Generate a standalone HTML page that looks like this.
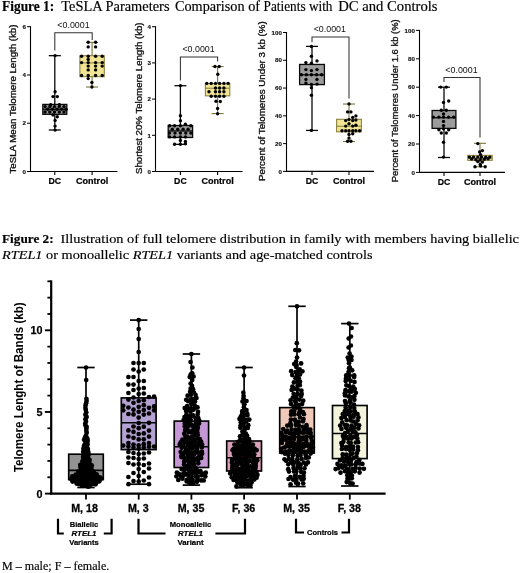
<!DOCTYPE html>
<html><head><meta charset="utf-8"><title>Figure</title>
<style>
html,body{margin:0;padding:0;background:#fff;}
body{width:520px;height:573px;overflow:hidden;font-family:"Liberation Sans",sans-serif;}
svg{display:block;will-change:transform}
text{white-space:pre}
</style></head><body>
<svg width="520" height="573" viewBox="0 0 520 573">
<rect width="520" height="573" fill="#fff"/>
<line x1="54.80" y1="55.66" x2="54.80" y2="104.41" stroke="#0a0a0a" stroke-width="1.3" />
<line x1="54.80" y1="114.30" x2="54.80" y2="129.99" stroke="#0a0a0a" stroke-width="1.3" />
<line x1="48.80" y1="55.66" x2="60.80" y2="55.66" stroke="#0a0a0a" stroke-width="1.3" />
<line x1="48.80" y1="129.99" x2="60.80" y2="129.99" stroke="#0a0a0a" stroke-width="1.3" />
<rect x="42.80" y="104.41" width="24.00" height="9.89" fill="#9c9c9c" stroke="#0a0a0a" stroke-width="1.3"/>
<line x1="42.80" y1="109.24" x2="66.80" y2="109.24" stroke="#0a0a0a" stroke-width="1.3" />
<line x1="92.10" y1="42.39" x2="92.10" y2="55.66" stroke="#7d7436" stroke-width="1.1" />
<line x1="92.10" y1="76.66" x2="92.10" y2="87.03" stroke="#7d7436" stroke-width="1.1" />
<line x1="86.10" y1="42.39" x2="98.10" y2="42.39" stroke="#7d7436" stroke-width="1.1" />
<line x1="86.10" y1="87.03" x2="98.10" y2="87.03" stroke="#7d7436" stroke-width="1.1" />
<rect x="79.90" y="55.66" width="24.40" height="21.00" fill="#f1e595" stroke="#8d8340" stroke-width="1.1"/>
<line x1="79.90" y1="62.90" x2="104.30" y2="62.90" stroke="#8d8340" stroke-width="1.1" />
<g fill="#000"><circle cx="55.1" cy="55.6" r="1.7"/><circle cx="55.1" cy="91.7" r="1.7"/><circle cx="53.0" cy="96.6" r="1.7"/><circle cx="57.3" cy="96.6" r="1.7"/><circle cx="50.7" cy="104.8" r="1.7"/><circle cx="59.4" cy="104.8" r="1.7"/><circle cx="53.0" cy="114.9" r="1.7"/><circle cx="57.3" cy="116.7" r="1.7"/><circle cx="55.1" cy="120.5" r="1.7"/><circle cx="55.1" cy="126.1" r="1.7"/><circle cx="55.1" cy="130.1" r="1.7"/><circle cx="45.1" cy="106.6" r="1.7"/><circle cx="49.8" cy="106.6" r="1.7"/><circle cx="54.5" cy="106.6" r="1.7"/><circle cx="59.3" cy="106.6" r="1.7"/><circle cx="64.0" cy="106.6" r="1.7"/><circle cx="47.6" cy="109.3" r="1.7"/><circle cx="52.3" cy="109.3" r="1.7"/><circle cx="57.0" cy="109.3" r="1.7"/><circle cx="61.7" cy="109.3" r="1.7"/><circle cx="66.1" cy="109.3" r="1.7"/><circle cx="45.1" cy="112.0" r="1.7"/><circle cx="49.8" cy="112.0" r="1.7"/><circle cx="54.5" cy="112.0" r="1.7"/><circle cx="59.3" cy="112.0" r="1.7"/><circle cx="64.0" cy="112.0" r="1.7"/></g>
<g fill="#000"><circle cx="88.2" cy="42.3" r="1.7"/><circle cx="95.6" cy="42.3" r="1.7"/><circle cx="88.2" cy="46.9" r="1.7"/><circle cx="95.6" cy="46.9" r="1.7"/><circle cx="81.6" cy="56.3" r="1.7"/><circle cx="88.2" cy="56.3" r="1.7"/><circle cx="95.6" cy="56.3" r="1.7"/><circle cx="102.2" cy="56.3" r="1.7"/><circle cx="88.2" cy="59.4" r="1.7"/><circle cx="81.6" cy="62.6" r="1.7"/><circle cx="88.2" cy="62.6" r="1.7"/><circle cx="95.6" cy="62.6" r="1.7"/><circle cx="102.2" cy="62.6" r="1.7"/><circle cx="88.2" cy="66.1" r="1.7"/><circle cx="95.6" cy="66.1" r="1.7"/><circle cx="102.2" cy="66.1" r="1.7"/><circle cx="88.2" cy="69.9" r="1.7"/><circle cx="95.6" cy="69.9" r="1.7"/><circle cx="81.6" cy="75.5" r="1.7"/><circle cx="88.2" cy="75.5" r="1.7"/><circle cx="95.6" cy="75.5" r="1.7"/><circle cx="102.2" cy="75.5" r="1.7"/><circle cx="88.2" cy="78.6" r="1.7"/><circle cx="91.9" cy="82.5" r="1.7"/><circle cx="91.9" cy="87.0" r="1.7"/></g>
<line x1="30.50" y1="26.20" x2="30.50" y2="172.00" stroke="#000" stroke-width="1.1" />
<line x1="30.00" y1="171.50" x2="117.50" y2="171.50" stroke="#000" stroke-width="1.1" />
<line x1="27.00" y1="171.50" x2="30.50" y2="171.50" stroke="#000" stroke-width="1.0" />
<text x="25.90" y="173.70" font-size="6.2" text-anchor="end" font-weight="bold" fill="#111" style="font-family:'Liberation Sans',sans-serif;stroke:#111;stroke-width:0.15px">0</text>
<line x1="27.00" y1="123.23" x2="30.50" y2="123.23" stroke="#000" stroke-width="1.0" />
<text x="25.90" y="125.43" font-size="6.2" text-anchor="end" font-weight="bold" fill="#111" style="font-family:'Liberation Sans',sans-serif;stroke:#111;stroke-width:0.15px">2</text>
<line x1="27.00" y1="74.97" x2="30.50" y2="74.97" stroke="#000" stroke-width="1.0" />
<text x="25.90" y="77.17" font-size="6.2" text-anchor="end" font-weight="bold" fill="#111" style="font-family:'Liberation Sans',sans-serif;stroke:#111;stroke-width:0.15px">4</text>
<line x1="27.00" y1="26.70" x2="30.50" y2="26.70" stroke="#000" stroke-width="1.0" />
<text x="25.90" y="28.90" font-size="6.2" text-anchor="end" font-weight="bold" fill="#111" style="font-family:'Liberation Sans',sans-serif;stroke:#111;stroke-width:0.15px">6</text>
<line x1="54.80" y1="171.50" x2="54.80" y2="175.00" stroke="#000" stroke-width="1.1" />
<line x1="92.10" y1="171.50" x2="92.10" y2="175.00" stroke="#000" stroke-width="1.1" />
<text x="54.80" y="184.30" font-size="8.8" text-anchor="middle" font-weight="bold" fill="#000" style="font-family:'Liberation Sans',sans-serif;stroke:#000;stroke-width:0.2px" textLength="12.60" lengthAdjust="spacingAndGlyphs">DC</text>
<text x="92.10" y="184.30" font-size="8.8" text-anchor="middle" font-weight="bold" fill="#000" style="font-family:'Liberation Sans',sans-serif;stroke:#000;stroke-width:0.2px" textLength="32.20" lengthAdjust="spacingAndGlyphs">Control</text>
<polyline points="54.80,50.50 54.80,32.80 92.20,32.80 92.20,40.00" fill="none" stroke="#333" stroke-width="1.05"/>
<text x="73.50" y="28.10" font-size="9.0" text-anchor="middle" font-weight="normal" fill="#111" style="font-family:'Liberation Sans',sans-serif;" textLength="32.30" lengthAdjust="spacingAndGlyphs">&lt;0.0001</text>
<text x="15.90" y="173.50" font-size="8.2" text-anchor="start" font-weight="normal" fill="#111" style="font-family:'Liberation Sans',sans-serif;stroke:#111;stroke-width:0.32px" textLength="149.00" lengthAdjust="spacingAndGlyphs" transform="rotate(-90 15.90 173.50)">TeSLA Mean Telomere Length (kb)</text>
<line x1="180.40" y1="85.71" x2="180.40" y2="125.53" stroke="#0a0a0a" stroke-width="1.3" />
<line x1="180.40" y1="137.47" x2="180.40" y2="144.35" stroke="#0a0a0a" stroke-width="1.3" />
<line x1="174.40" y1="85.71" x2="186.40" y2="85.71" stroke="#0a0a0a" stroke-width="1.3" />
<line x1="174.40" y1="144.35" x2="186.40" y2="144.35" stroke="#0a0a0a" stroke-width="1.3" />
<rect x="168.20" y="125.53" width="24.40" height="11.95" fill="#9c9c9c" stroke="#0a0a0a" stroke-width="1.3"/>
<line x1="168.20" y1="130.96" x2="192.60" y2="130.96" stroke="#0a0a0a" stroke-width="1.3" />
<line x1="217.60" y1="66.52" x2="217.60" y2="83.53" stroke="#7d7436" stroke-width="1.1" />
<line x1="217.60" y1="95.84" x2="217.60" y2="113.58" stroke="#7d7436" stroke-width="1.1" />
<line x1="211.60" y1="66.52" x2="223.60" y2="66.52" stroke="#7d7436" stroke-width="1.1" />
<line x1="211.60" y1="113.58" x2="223.60" y2="113.58" stroke="#7d7436" stroke-width="1.1" />
<rect x="205.40" y="83.53" width="24.40" height="12.31" fill="#f1e595" stroke="#8d8340" stroke-width="1.1"/>
<line x1="205.40" y1="88.24" x2="229.80" y2="88.24" stroke="#8d8340" stroke-width="1.1" />
<g fill="#000"><circle cx="180.4" cy="85.6" r="1.7"/><circle cx="180.4" cy="115.8" r="1.7"/><circle cx="180.4" cy="120.8" r="1.7"/><circle cx="185.4" cy="124.2" r="1.7"/><circle cx="169.6" cy="125.8" r="1.7"/><circle cx="174.6" cy="125.8" r="1.7"/><circle cx="180.4" cy="125.8" r="1.7"/><circle cx="190.8" cy="125.8" r="1.7"/><circle cx="172.3" cy="129.2" r="1.7"/><circle cx="177.7" cy="129.2" r="1.7"/><circle cx="183.1" cy="129.2" r="1.7"/><circle cx="188.1" cy="129.2" r="1.7"/><circle cx="169.6" cy="133.1" r="1.7"/><circle cx="175.0" cy="133.1" r="1.7"/><circle cx="180.4" cy="133.1" r="1.7"/><circle cx="185.8" cy="133.1" r="1.7"/><circle cx="190.8" cy="133.1" r="1.7"/><circle cx="169.6" cy="136.9" r="1.7"/><circle cx="174.6" cy="136.9" r="1.7"/><circle cx="180.4" cy="136.9" r="1.7"/><circle cx="185.4" cy="136.9" r="1.7"/><circle cx="180.4" cy="140.4" r="1.7"/><circle cx="185.4" cy="141.5" r="1.7"/><circle cx="174.6" cy="144.2" r="1.7"/><circle cx="185.4" cy="143.8" r="1.7"/><circle cx="180.4" cy="144.2" r="1.7"/></g>
<g fill="#000"><circle cx="215.0" cy="66.5" r="1.7"/><circle cx="219.2" cy="66.5" r="1.7"/><circle cx="217.8" cy="74.2" r="1.7"/><circle cx="206.8" cy="83.4" r="1.7"/><circle cx="211.2" cy="83.4" r="1.7"/><circle cx="215.5" cy="83.4" r="1.7"/><circle cx="219.6" cy="83.4" r="1.7"/><circle cx="223.9" cy="83.4" r="1.7"/><circle cx="228.1" cy="83.4" r="1.7"/><circle cx="215.5" cy="88.0" r="1.7"/><circle cx="219.6" cy="88.0" r="1.7"/><circle cx="223.9" cy="88.0" r="1.7"/><circle cx="209.0" cy="91.8" r="1.7"/><circle cx="215.5" cy="91.8" r="1.7"/><circle cx="219.6" cy="91.8" r="1.7"/><circle cx="223.9" cy="91.8" r="1.7"/><circle cx="211.2" cy="96.2" r="1.7"/><circle cx="215.5" cy="96.2" r="1.7"/><circle cx="219.6" cy="96.2" r="1.7"/><circle cx="223.9" cy="96.2" r="1.7"/><circle cx="216.0" cy="101.3" r="1.7"/><circle cx="220.3" cy="101.5" r="1.7"/><circle cx="217.6" cy="108.5" r="1.7"/><circle cx="217.6" cy="113.8" r="1.7"/></g>
<line x1="155.50" y1="26.20" x2="155.50" y2="172.00" stroke="#000" stroke-width="1.1" />
<line x1="155.00" y1="171.50" x2="242.50" y2="171.50" stroke="#000" stroke-width="1.1" />
<line x1="152.00" y1="171.50" x2="155.50" y2="171.50" stroke="#000" stroke-width="1.0" />
<text x="150.90" y="173.70" font-size="6.2" text-anchor="end" font-weight="bold" fill="#111" style="font-family:'Liberation Sans',sans-serif;stroke:#111;stroke-width:0.15px">0</text>
<line x1="152.00" y1="135.30" x2="155.50" y2="135.30" stroke="#000" stroke-width="1.0" />
<text x="150.90" y="137.50" font-size="6.2" text-anchor="end" font-weight="bold" fill="#111" style="font-family:'Liberation Sans',sans-serif;stroke:#111;stroke-width:0.15px">1</text>
<line x1="152.00" y1="99.10" x2="155.50" y2="99.10" stroke="#000" stroke-width="1.0" />
<text x="150.90" y="101.30" font-size="6.2" text-anchor="end" font-weight="bold" fill="#111" style="font-family:'Liberation Sans',sans-serif;stroke:#111;stroke-width:0.15px">2</text>
<line x1="152.00" y1="62.90" x2="155.50" y2="62.90" stroke="#000" stroke-width="1.0" />
<text x="150.90" y="65.10" font-size="6.2" text-anchor="end" font-weight="bold" fill="#111" style="font-family:'Liberation Sans',sans-serif;stroke:#111;stroke-width:0.15px">3</text>
<line x1="152.00" y1="26.70" x2="155.50" y2="26.70" stroke="#000" stroke-width="1.0" />
<text x="150.90" y="28.90" font-size="6.2" text-anchor="end" font-weight="bold" fill="#111" style="font-family:'Liberation Sans',sans-serif;stroke:#111;stroke-width:0.15px">4</text>
<line x1="180.40" y1="171.50" x2="180.40" y2="175.00" stroke="#000" stroke-width="1.1" />
<line x1="217.60" y1="171.50" x2="217.60" y2="175.00" stroke="#000" stroke-width="1.1" />
<text x="180.40" y="184.30" font-size="8.8" text-anchor="middle" font-weight="bold" fill="#000" style="font-family:'Liberation Sans',sans-serif;stroke:#000;stroke-width:0.2px" textLength="12.60" lengthAdjust="spacingAndGlyphs">DC</text>
<text x="217.60" y="184.30" font-size="8.8" text-anchor="middle" font-weight="bold" fill="#000" style="font-family:'Liberation Sans',sans-serif;stroke:#000;stroke-width:0.2px" textLength="32.20" lengthAdjust="spacingAndGlyphs">Control</text>
<polyline points="180.40,80.50 180.40,57.00 217.60,57.00 217.60,61.50" fill="none" stroke="#333" stroke-width="1.05"/>
<text x="198.60" y="52.30" font-size="9.0" text-anchor="middle" font-weight="normal" fill="#111" style="font-family:'Liberation Sans',sans-serif;" textLength="32.30" lengthAdjust="spacingAndGlyphs">&lt;0.0001</text>
<text x="141.80" y="174.00" font-size="8.2" text-anchor="start" font-weight="normal" fill="#111" style="font-family:'Liberation Sans',sans-serif;stroke:#111;stroke-width:0.32px" textLength="151.60" lengthAdjust="spacingAndGlyphs" transform="rotate(-90 141.80 174.00)">Shortest 20% Telomere Length (kb)</text>
<line x1="312.00" y1="46.39" x2="312.00" y2="64.45" stroke="#0a0a0a" stroke-width="1.3" />
<line x1="312.00" y1="84.59" x2="312.00" y2="130.42" stroke="#0a0a0a" stroke-width="1.3" />
<line x1="306.00" y1="46.39" x2="318.00" y2="46.39" stroke="#0a0a0a" stroke-width="1.3" />
<line x1="306.00" y1="130.42" x2="318.00" y2="130.42" stroke="#0a0a0a" stroke-width="1.3" />
<rect x="299.60" y="64.45" width="24.80" height="20.14" fill="#9c9c9c" stroke="#0a0a0a" stroke-width="1.3"/>
<line x1="299.60" y1="74.86" x2="324.40" y2="74.86" stroke="#0a0a0a" stroke-width="1.3" />
<line x1="349.00" y1="104.03" x2="349.00" y2="119.31" stroke="#7d7436" stroke-width="1.1" />
<line x1="349.00" y1="131.81" x2="349.00" y2="141.54" stroke="#7d7436" stroke-width="1.1" />
<line x1="343.00" y1="104.03" x2="355.00" y2="104.03" stroke="#7d7436" stroke-width="1.1" />
<line x1="343.00" y1="141.54" x2="355.00" y2="141.54" stroke="#7d7436" stroke-width="1.1" />
<rect x="336.60" y="119.31" width="24.80" height="12.50" fill="#f1e595" stroke="#8d8340" stroke-width="1.1"/>
<line x1="336.60" y1="126.26" x2="361.40" y2="126.26" stroke="#8d8340" stroke-width="1.1" />
<g fill="#000"><circle cx="311.4" cy="46.5" r="1.7"/><circle cx="311.4" cy="56.3" r="1.7"/><circle cx="317.0" cy="60.9" r="1.7"/><circle cx="305.9" cy="62.6" r="1.7"/><circle cx="311.4" cy="63.3" r="1.7"/><circle cx="305.9" cy="69.6" r="1.7"/><circle cx="311.4" cy="70.6" r="1.7"/><circle cx="317.0" cy="69.6" r="1.7"/><circle cx="301.3" cy="74.8" r="1.7"/><circle cx="306.4" cy="74.8" r="1.7"/><circle cx="311.4" cy="74.8" r="1.7"/><circle cx="316.6" cy="74.8" r="1.7"/><circle cx="321.6" cy="74.8" r="1.7"/><circle cx="305.9" cy="79.4" r="1.7"/><circle cx="317.0" cy="79.4" r="1.7"/><circle cx="305.9" cy="83.1" r="1.7"/><circle cx="311.4" cy="84.4" r="1.7"/><circle cx="317.0" cy="84.1" r="1.7"/><circle cx="311.4" cy="87.8" r="1.7"/><circle cx="311.4" cy="95.2" r="1.7"/><circle cx="311.4" cy="130.4" r="1.7"/></g>
<g fill="#000"><circle cx="349.0" cy="103.9" r="1.7"/><circle cx="347.6" cy="111.9" r="1.7"/><circle cx="350.9" cy="111.9" r="1.7"/><circle cx="355.9" cy="115.9" r="1.7"/><circle cx="352.7" cy="117.4" r="1.7"/><circle cx="345.7" cy="120.6" r="1.7"/><circle cx="349.0" cy="119.6" r="1.7"/><circle cx="352.7" cy="120.6" r="1.7"/><circle cx="355.9" cy="120.0" r="1.7"/><circle cx="349.0" cy="123.7" r="1.7"/><circle cx="345.7" cy="126.1" r="1.7"/><circle cx="352.7" cy="126.1" r="1.7"/><circle cx="355.9" cy="125.2" r="1.7"/><circle cx="342.0" cy="130.7" r="1.7"/><circle cx="345.7" cy="130.7" r="1.7"/><circle cx="349.0" cy="130.7" r="1.7"/><circle cx="352.7" cy="130.7" r="1.7"/><circle cx="355.9" cy="130.7" r="1.7"/><circle cx="359.6" cy="130.7" r="1.7"/><circle cx="349.0" cy="134.4" r="1.7"/><circle cx="352.7" cy="133.7" r="1.7"/><circle cx="349.0" cy="138.1" r="1.7"/><circle cx="347.6" cy="141.3" r="1.7"/><circle cx="350.9" cy="141.3" r="1.7"/></g>
<line x1="286.50" y1="32.00" x2="286.50" y2="171.90" stroke="#000" stroke-width="1.1" />
<line x1="286.00" y1="171.40" x2="374.00" y2="171.40" stroke="#000" stroke-width="1.1" />
<line x1="283.00" y1="171.40" x2="286.50" y2="171.40" stroke="#000" stroke-width="1.0" />
<text x="281.90" y="173.60" font-size="6.2" text-anchor="end" font-weight="bold" fill="#111" style="font-family:'Liberation Sans',sans-serif;stroke:#111;stroke-width:0.15px">0</text>
<line x1="283.00" y1="143.62" x2="286.50" y2="143.62" stroke="#000" stroke-width="1.0" />
<text x="281.90" y="145.82" font-size="6.2" text-anchor="end" font-weight="bold" fill="#111" style="font-family:'Liberation Sans',sans-serif;stroke:#111;stroke-width:0.15px">20</text>
<line x1="283.00" y1="115.84" x2="286.50" y2="115.84" stroke="#000" stroke-width="1.0" />
<text x="281.90" y="118.04" font-size="6.2" text-anchor="end" font-weight="bold" fill="#111" style="font-family:'Liberation Sans',sans-serif;stroke:#111;stroke-width:0.15px">40</text>
<line x1="283.00" y1="88.06" x2="286.50" y2="88.06" stroke="#000" stroke-width="1.0" />
<text x="281.90" y="90.26" font-size="6.2" text-anchor="end" font-weight="bold" fill="#111" style="font-family:'Liberation Sans',sans-serif;stroke:#111;stroke-width:0.15px">60</text>
<line x1="283.00" y1="60.28" x2="286.50" y2="60.28" stroke="#000" stroke-width="1.0" />
<text x="281.90" y="62.48" font-size="6.2" text-anchor="end" font-weight="bold" fill="#111" style="font-family:'Liberation Sans',sans-serif;stroke:#111;stroke-width:0.15px">80</text>
<line x1="283.00" y1="32.50" x2="286.50" y2="32.50" stroke="#000" stroke-width="1.0" />
<text x="281.90" y="34.70" font-size="6.2" text-anchor="end" font-weight="bold" fill="#111" style="font-family:'Liberation Sans',sans-serif;stroke:#111;stroke-width:0.15px">100</text>
<line x1="312.00" y1="171.40" x2="312.00" y2="174.90" stroke="#000" stroke-width="1.1" />
<line x1="349.00" y1="171.40" x2="349.00" y2="174.90" stroke="#000" stroke-width="1.1" />
<text x="312.00" y="184.20" font-size="8.8" text-anchor="middle" font-weight="bold" fill="#000" style="font-family:'Liberation Sans',sans-serif;stroke:#000;stroke-width:0.2px" textLength="12.60" lengthAdjust="spacingAndGlyphs">DC</text>
<text x="349.00" y="184.20" font-size="8.8" text-anchor="middle" font-weight="bold" fill="#000" style="font-family:'Liberation Sans',sans-serif;stroke:#000;stroke-width:0.2px" textLength="32.20" lengthAdjust="spacingAndGlyphs">Control</text>
<polyline points="312.00,42.20 312.00,37.00 349.00,37.00 349.00,98.50" fill="none" stroke="#333" stroke-width="1.05"/>
<text x="329.80" y="31.80" font-size="9.0" text-anchor="middle" font-weight="normal" fill="#111" style="font-family:'Liberation Sans',sans-serif;" textLength="32.30" lengthAdjust="spacingAndGlyphs">&lt;0.0001</text>
<text x="265.40" y="181.00" font-size="8.2" text-anchor="start" font-weight="normal" fill="#111" style="font-family:'Liberation Sans',sans-serif;stroke:#111;stroke-width:0.32px" textLength="159.70" lengthAdjust="spacingAndGlyphs" transform="rotate(-90 265.40 181.00)">Percent of Telomeres Under 3 kb (%)</text>
<line x1="444.00" y1="87.20" x2="444.00" y2="110.49" stroke="#0a0a0a" stroke-width="1.3" />
<line x1="444.00" y1="128.38" x2="444.00" y2="157.49" stroke="#0a0a0a" stroke-width="1.3" />
<line x1="438.00" y1="87.20" x2="450.00" y2="87.20" stroke="#0a0a0a" stroke-width="1.3" />
<line x1="438.00" y1="157.49" x2="450.00" y2="157.49" stroke="#0a0a0a" stroke-width="1.3" />
<rect x="432.10" y="110.49" width="23.80" height="17.89" fill="#9c9c9c" stroke="#0a0a0a" stroke-width="1.3"/>
<line x1="432.10" y1="117.73" x2="455.90" y2="117.73" stroke="#0a0a0a" stroke-width="1.3" />
<line x1="480.00" y1="143.29" x2="480.00" y2="155.36" stroke="#7d7436" stroke-width="1.1" />
<line x1="480.00" y1="160.33" x2="480.00" y2="166.72" stroke="#7d7436" stroke-width="1.1" />
<line x1="474.00" y1="143.29" x2="486.00" y2="143.29" stroke="#7d7436" stroke-width="1.1" />
<line x1="474.00" y1="166.72" x2="486.00" y2="166.72" stroke="#7d7436" stroke-width="1.1" />
<rect x="467.80" y="155.36" width="24.40" height="4.97" fill="#f1e595" stroke="#8d8340" stroke-width="1.1"/>
<line x1="467.80" y1="158.20" x2="492.20" y2="158.20" stroke="#8d8340" stroke-width="1.1" />
<g fill="#000"><circle cx="440.7" cy="87.1" r="1.7"/><circle cx="446.3" cy="87.1" r="1.7"/><circle cx="443.5" cy="102.5" r="1.7"/><circle cx="448.7" cy="101.0" r="1.7"/><circle cx="441.3" cy="110.3" r="1.7"/><circle cx="446.3" cy="110.3" r="1.7"/><circle cx="443.5" cy="114.0" r="1.7"/><circle cx="433.3" cy="117.1" r="1.7"/><circle cx="438.9" cy="117.1" r="1.7"/><circle cx="443.5" cy="117.1" r="1.7"/><circle cx="448.7" cy="117.1" r="1.7"/><circle cx="453.7" cy="117.1" r="1.7"/><circle cx="443.5" cy="121.4" r="1.7"/><circle cx="443.5" cy="125.6" r="1.7"/><circle cx="438.9" cy="129.7" r="1.7"/><circle cx="443.5" cy="128.8" r="1.7"/><circle cx="448.7" cy="129.7" r="1.7"/><circle cx="441.3" cy="133.0" r="1.7"/><circle cx="446.3" cy="133.0" r="1.7"/><circle cx="443.5" cy="142.3" r="1.7"/><circle cx="443.5" cy="157.1" r="1.7"/></g>
<g fill="#000"><circle cx="477.8" cy="143.6" r="1.7"/><circle cx="482.4" cy="150.6" r="1.7"/><circle cx="479.6" cy="151.9" r="1.7"/><circle cx="480.6" cy="154.7" r="1.7"/><circle cx="469.4" cy="157.1" r="1.7"/><circle cx="473.5" cy="157.1" r="1.7"/><circle cx="477.8" cy="157.1" r="1.7"/><circle cx="481.5" cy="157.1" r="1.7"/><circle cx="485.7" cy="157.1" r="1.7"/><circle cx="489.8" cy="157.1" r="1.7"/><circle cx="471.7" cy="159.0" r="1.7"/><circle cx="475.9" cy="159.7" r="1.7"/><circle cx="480.2" cy="159.7" r="1.7"/><circle cx="484.3" cy="159.3" r="1.7"/><circle cx="488.0" cy="158.8" r="1.7"/><circle cx="477.8" cy="161.6" r="1.7"/><circle cx="482.4" cy="162.1" r="1.7"/><circle cx="480.2" cy="164.5" r="1.7"/><circle cx="475.0" cy="166.7" r="1.7"/><circle cx="485.2" cy="166.7" r="1.7"/><circle cx="480.6" cy="166.0" r="1.7"/></g>
<line x1="419.50" y1="29.90" x2="419.50" y2="172.90" stroke="#000" stroke-width="1.1" />
<line x1="419.00" y1="172.40" x2="505.00" y2="172.40" stroke="#000" stroke-width="1.1" />
<line x1="416.00" y1="172.40" x2="419.50" y2="172.40" stroke="#000" stroke-width="1.0" />
<text x="414.90" y="174.60" font-size="6.2" text-anchor="end" font-weight="bold" fill="#111" style="font-family:'Liberation Sans',sans-serif;stroke:#111;stroke-width:0.15px">0</text>
<line x1="416.00" y1="144.00" x2="419.50" y2="144.00" stroke="#000" stroke-width="1.0" />
<text x="414.90" y="146.20" font-size="6.2" text-anchor="end" font-weight="bold" fill="#111" style="font-family:'Liberation Sans',sans-serif;stroke:#111;stroke-width:0.15px">20</text>
<line x1="416.00" y1="115.60" x2="419.50" y2="115.60" stroke="#000" stroke-width="1.0" />
<text x="414.90" y="117.80" font-size="6.2" text-anchor="end" font-weight="bold" fill="#111" style="font-family:'Liberation Sans',sans-serif;stroke:#111;stroke-width:0.15px">40</text>
<line x1="416.00" y1="87.20" x2="419.50" y2="87.20" stroke="#000" stroke-width="1.0" />
<text x="414.90" y="89.40" font-size="6.2" text-anchor="end" font-weight="bold" fill="#111" style="font-family:'Liberation Sans',sans-serif;stroke:#111;stroke-width:0.15px">60</text>
<line x1="416.00" y1="58.80" x2="419.50" y2="58.80" stroke="#000" stroke-width="1.0" />
<text x="414.90" y="61.00" font-size="6.2" text-anchor="end" font-weight="bold" fill="#111" style="font-family:'Liberation Sans',sans-serif;stroke:#111;stroke-width:0.15px">80</text>
<line x1="416.00" y1="30.40" x2="419.50" y2="30.40" stroke="#000" stroke-width="1.0" />
<text x="414.90" y="32.60" font-size="6.2" text-anchor="end" font-weight="bold" fill="#111" style="font-family:'Liberation Sans',sans-serif;stroke:#111;stroke-width:0.15px">100</text>
<line x1="444.00" y1="172.40" x2="444.00" y2="175.90" stroke="#000" stroke-width="1.1" />
<line x1="480.00" y1="172.40" x2="480.00" y2="175.90" stroke="#000" stroke-width="1.1" />
<text x="444.00" y="185.20" font-size="8.8" text-anchor="middle" font-weight="bold" fill="#000" style="font-family:'Liberation Sans',sans-serif;stroke:#000;stroke-width:0.2px" textLength="12.60" lengthAdjust="spacingAndGlyphs">DC</text>
<text x="480.00" y="185.20" font-size="8.8" text-anchor="middle" font-weight="bold" fill="#000" style="font-family:'Liberation Sans',sans-serif;stroke:#000;stroke-width:0.2px" textLength="32.20" lengthAdjust="spacingAndGlyphs">Control</text>
<polyline points="444.00,82.00 444.00,77.50 480.00,77.50 480.00,137.50" fill="none" stroke="#333" stroke-width="1.05"/>
<text x="461.50" y="72.80" font-size="9.0" text-anchor="middle" font-weight="normal" fill="#111" style="font-family:'Liberation Sans',sans-serif;" textLength="32.30" lengthAdjust="spacingAndGlyphs">&lt;0.0001</text>
<text x="398.50" y="182.30" font-size="8.2" text-anchor="start" font-weight="normal" fill="#111" style="font-family:'Liberation Sans',sans-serif;stroke:#111;stroke-width:0.32px" textLength="163.00" lengthAdjust="spacingAndGlyphs" transform="rotate(-90 398.50 182.30)">Percent of Telomeres Under 1.6 kb (%)</text>
<line x1="86.00" y1="367.50" x2="86.00" y2="454.20" stroke="#000" stroke-width="1.7" />
<line x1="86.00" y1="479.60" x2="86.00" y2="487.50" stroke="#000" stroke-width="1.7" />
<line x1="77.30" y1="367.50" x2="94.70" y2="367.50" stroke="#000" stroke-width="1.7" />
<line x1="77.30" y1="487.50" x2="94.70" y2="487.50" stroke="#000" stroke-width="1.7" />
<rect x="68.70" y="454.20" width="34.60" height="25.40" fill="#939393" stroke="#000" stroke-width="1.65"/>
<line x1="68.70" y1="470.40" x2="103.30" y2="470.40" stroke="#000" stroke-width="1.65" />
<line x1="138.70" y1="320.10" x2="138.70" y2="397.90" stroke="#000" stroke-width="1.7" />
<line x1="138.70" y1="449.60" x2="138.70" y2="484.20" stroke="#000" stroke-width="1.7" />
<line x1="130.00" y1="320.10" x2="147.40" y2="320.10" stroke="#000" stroke-width="1.7" />
<line x1="130.00" y1="484.20" x2="147.40" y2="484.20" stroke="#000" stroke-width="1.7" />
<rect x="121.30" y="397.90" width="34.80" height="51.70" fill="#b4a2d3" stroke="#000" stroke-width="1.65"/>
<line x1="121.30" y1="422.70" x2="156.10" y2="422.70" stroke="#000" stroke-width="1.65" />
<line x1="191.40" y1="354.00" x2="191.40" y2="421.10" stroke="#000" stroke-width="1.7" />
<line x1="191.40" y1="467.50" x2="191.40" y2="485.10" stroke="#000" stroke-width="1.7" />
<line x1="182.70" y1="354.00" x2="200.10" y2="354.00" stroke="#000" stroke-width="1.7" />
<line x1="182.70" y1="485.10" x2="200.10" y2="485.10" stroke="#000" stroke-width="1.7" />
<rect x="174.20" y="421.10" width="34.40" height="46.40" fill="#c597d4" stroke="#000" stroke-width="1.65"/>
<line x1="174.20" y1="446.70" x2="208.60" y2="446.70" stroke="#000" stroke-width="1.65" />
<line x1="244.10" y1="367.50" x2="244.10" y2="441.00" stroke="#000" stroke-width="1.7" />
<line x1="244.10" y1="471.00" x2="244.10" y2="487.70" stroke="#000" stroke-width="1.7" />
<line x1="235.40" y1="367.50" x2="252.80" y2="367.50" stroke="#000" stroke-width="1.7" />
<line x1="235.40" y1="487.70" x2="252.80" y2="487.70" stroke="#000" stroke-width="1.7" />
<rect x="226.70" y="441.00" width="34.80" height="30.00" fill="#dba0b9" stroke="#000" stroke-width="1.65"/>
<line x1="226.70" y1="457.70" x2="261.50" y2="457.70" stroke="#000" stroke-width="1.65" />
<line x1="297.00" y1="306.30" x2="297.00" y2="407.60" stroke="#000" stroke-width="1.7" />
<line x1="297.00" y1="453.00" x2="297.00" y2="486.50" stroke="#000" stroke-width="1.7" />
<line x1="288.30" y1="306.30" x2="305.70" y2="306.30" stroke="#000" stroke-width="1.7" />
<line x1="288.30" y1="486.50" x2="305.70" y2="486.50" stroke="#000" stroke-width="1.7" />
<rect x="279.70" y="407.60" width="34.60" height="45.40" fill="#f1c9b8" stroke="#000" stroke-width="1.65"/>
<line x1="279.70" y1="436.50" x2="314.30" y2="436.50" stroke="#000" stroke-width="1.65" />
<line x1="349.80" y1="323.60" x2="349.80" y2="405.50" stroke="#000" stroke-width="1.7" />
<line x1="349.80" y1="458.60" x2="349.80" y2="486.00" stroke="#000" stroke-width="1.7" />
<line x1="341.10" y1="323.60" x2="358.50" y2="323.60" stroke="#000" stroke-width="1.7" />
<line x1="341.10" y1="486.00" x2="358.50" y2="486.00" stroke="#000" stroke-width="1.7" />
<rect x="332.50" y="405.50" width="34.60" height="53.10" fill="#f4f4dc" stroke="#000" stroke-width="1.65"/>
<line x1="332.50" y1="433.50" x2="367.10" y2="433.50" stroke="#000" stroke-width="1.65" />
<g fill="#000"><circle cx="86.4" cy="398.8" r="2.35"/><circle cx="86.6" cy="401.1" r="2.35"/><circle cx="86.1" cy="403.2" r="2.35"/><circle cx="85.5" cy="405.4" r="2.35"/><circle cx="85.4" cy="408.0" r="2.35"/><circle cx="85.8" cy="409.9" r="2.35"/><circle cx="86.3" cy="412.5" r="2.35"/><circle cx="85.4" cy="414.7" r="2.35"/><circle cx="86.6" cy="416.9" r="2.35"/><circle cx="85.4" cy="419.2" r="2.35"/><circle cx="86.0" cy="421.6" r="2.35"/><circle cx="85.2" cy="423.8" r="2.35"/><circle cx="85.5" cy="425.5" r="2.35"/><circle cx="86.6" cy="426.8" r="2.35"/><circle cx="86.4" cy="428.5" r="2.35"/><circle cx="86.3" cy="430.7" r="2.35"/><circle cx="86.7" cy="432.8" r="2.35"/><circle cx="86.0" cy="435.4" r="2.35"/><circle cx="85.0" cy="437.3" r="2.35"/><circle cx="87.3" cy="438.4" r="2.35"/><circle cx="84.1" cy="439.8" r="2.35"/><circle cx="87.7" cy="440.7" r="2.35"/><circle cx="85.3" cy="443.0" r="2.35"/><circle cx="87.3" cy="443.0" r="2.35"/><circle cx="84.2" cy="445.3" r="2.35"/><circle cx="87.5" cy="444.7" r="2.35"/><circle cx="84.1" cy="446.8" r="2.35"/><circle cx="86.9" cy="447.1" r="2.35"/><circle cx="83.4" cy="448.6" r="2.35"/><circle cx="85.7" cy="449.4" r="2.35"/><circle cx="87.9" cy="449.0" r="2.35"/><circle cx="83.2" cy="451.6" r="2.35"/><circle cx="86.4" cy="451.0" r="2.35"/><circle cx="88.2" cy="451.7" r="2.35"/><circle cx="83.7" cy="454.0" r="2.35"/><circle cx="88.3" cy="453.3" r="2.35"/><circle cx="83.2" cy="456.4" r="2.35"/><circle cx="85.9" cy="456.1" r="2.35"/><circle cx="88.3" cy="455.5" r="2.35"/><circle cx="83.3" cy="458.1" r="2.35"/><circle cx="86.3" cy="458.2" r="2.35"/><circle cx="88.6" cy="459.0" r="2.35"/><circle cx="82.4" cy="461.3" r="2.35"/><circle cx="85.4" cy="460.2" r="2.35"/><circle cx="87.2" cy="460.9" r="2.35"/><circle cx="89.7" cy="460.1" r="2.35"/><circle cx="82.8" cy="463.3" r="2.35"/><circle cx="84.2" cy="462.9" r="2.35"/><circle cx="86.9" cy="462.4" r="2.35"/><circle cx="89.5" cy="463.0" r="2.35"/><circle cx="80.3" cy="464.8" r="2.35"/><circle cx="83.3" cy="465.1" r="2.35"/><circle cx="86.3" cy="465.3" r="2.35"/><circle cx="89.2" cy="465.4" r="2.35"/><circle cx="91.7" cy="465.3" r="2.35"/><circle cx="80.4" cy="466.9" r="2.35"/><circle cx="83.4" cy="467.0" r="2.35"/><circle cx="85.5" cy="467.3" r="2.35"/><circle cx="88.3" cy="467.0" r="2.35"/><circle cx="91.3" cy="467.4" r="2.35"/><circle cx="80.6" cy="470.2" r="2.35"/><circle cx="82.6" cy="470.5" r="2.35"/><circle cx="85.8" cy="469.3" r="2.35"/><circle cx="88.9" cy="469.3" r="2.35"/><circle cx="92.3" cy="470.5" r="2.35"/><circle cx="78.4" cy="471.5" r="2.35"/><circle cx="81.1" cy="472.0" r="2.35"/><circle cx="82.9" cy="471.6" r="2.35"/><circle cx="85.5" cy="471.7" r="2.35"/><circle cx="88.2" cy="472.1" r="2.35"/><circle cx="90.9" cy="472.8" r="2.35"/><circle cx="93.8" cy="472.1" r="2.35"/><circle cx="75.7" cy="474.5" r="2.35"/><circle cx="78.3" cy="474.2" r="2.35"/><circle cx="80.4" cy="473.8" r="2.35"/><circle cx="84.0" cy="474.0" r="2.35"/><circle cx="86.3" cy="474.7" r="2.35"/><circle cx="88.6" cy="475.1" r="2.35"/><circle cx="91.0" cy="474.0" r="2.35"/><circle cx="93.9" cy="474.5" r="2.35"/><circle cx="96.6" cy="474.3" r="2.35"/><circle cx="72.2" cy="476.4" r="2.35"/><circle cx="74.8" cy="476.5" r="2.35"/><circle cx="77.9" cy="477.2" r="2.35"/><circle cx="80.8" cy="476.4" r="2.35"/><circle cx="82.9" cy="476.4" r="2.35"/><circle cx="86.5" cy="476.4" r="2.35"/><circle cx="88.3" cy="476.6" r="2.35"/><circle cx="92.0" cy="476.2" r="2.35"/><circle cx="93.8" cy="477.5" r="2.35"/><circle cx="97.4" cy="476.3" r="2.35"/><circle cx="99.8" cy="477.4" r="2.35"/><circle cx="71.2" cy="479.1" r="2.35"/><circle cx="74.2" cy="479.4" r="2.35"/><circle cx="77.1" cy="479.3" r="2.35"/><circle cx="79.1" cy="479.6" r="2.35"/><circle cx="81.7" cy="479.3" r="2.35"/><circle cx="84.9" cy="478.8" r="2.35"/><circle cx="87.2" cy="479.3" r="2.35"/><circle cx="90.1" cy="479.3" r="2.35"/><circle cx="92.6" cy="478.7" r="2.35"/><circle cx="95.7" cy="478.8" r="2.35"/><circle cx="98.3" cy="479.5" r="2.35"/><circle cx="101.2" cy="478.6" r="2.35"/><circle cx="72.5" cy="481.6" r="2.35"/><circle cx="75.0" cy="480.8" r="2.35"/><circle cx="77.5" cy="481.9" r="2.35"/><circle cx="80.3" cy="481.7" r="2.35"/><circle cx="83.6" cy="481.4" r="2.35"/><circle cx="85.4" cy="481.0" r="2.35"/><circle cx="89.1" cy="481.5" r="2.35"/><circle cx="92.0" cy="481.4" r="2.35"/><circle cx="94.7" cy="480.9" r="2.35"/><circle cx="97.3" cy="481.7" r="2.35"/><circle cx="99.3" cy="481.3" r="2.35"/><circle cx="76.6" cy="483.6" r="2.35"/><circle cx="79.0" cy="484.2" r="2.35"/><circle cx="81.4" cy="483.8" r="2.35"/><circle cx="84.9" cy="483.7" r="2.35"/><circle cx="87.7" cy="483.5" r="2.35"/><circle cx="89.8" cy="484.4" r="2.35"/><circle cx="92.1" cy="484.2" r="2.35"/><circle cx="95.6" cy="484.3" r="2.35"/><circle cx="82.1" cy="485.8" r="2.35"/><circle cx="84.3" cy="485.7" r="2.35"/><circle cx="87.8" cy="486.6" r="2.35"/><circle cx="89.3" cy="486.3" r="2.35"/><circle cx="86.0" cy="367.5" r="2.35"/><circle cx="86.2" cy="380.1" r="2.35"/></g>
<g fill="#000"><circle cx="138.7" cy="481.5" r="2.35"/><circle cx="133.5" cy="481.0" r="2.35"/><circle cx="143.8" cy="480.5" r="2.35"/><circle cx="149.0" cy="477.5" r="2.35"/><circle cx="128.4" cy="477.0" r="2.35"/><circle cx="138.7" cy="476.0" r="2.35"/><circle cx="133.5" cy="473.0" r="2.35"/><circle cx="143.8" cy="472.0" r="2.35"/><circle cx="138.7" cy="469.0" r="2.35"/><circle cx="149.0" cy="468.5" r="2.35"/><circle cx="143.8" cy="465.0" r="2.35"/><circle cx="133.5" cy="464.5" r="2.35"/><circle cx="138.7" cy="464.0" r="2.35"/><circle cx="149.0" cy="463.5" r="2.35"/><circle cx="128.4" cy="463.0" r="2.35"/><circle cx="138.7" cy="459.0" r="2.35"/><circle cx="143.8" cy="458.5" r="2.35"/><circle cx="133.5" cy="458.0" r="2.35"/><circle cx="128.4" cy="457.5" r="2.35"/><circle cx="138.7" cy="454.0" r="2.35"/><circle cx="143.8" cy="453.5" r="2.35"/><circle cx="133.5" cy="453.0" r="2.35"/><circle cx="149.0" cy="452.5" r="2.35"/><circle cx="128.4" cy="452.0" r="2.35"/><circle cx="138.7" cy="448.6" r="2.35"/><circle cx="133.5" cy="447.8" r="2.35"/><circle cx="143.8" cy="447.6" r="2.35"/><circle cx="149.0" cy="446.7" r="2.35"/><circle cx="128.4" cy="446.6" r="2.35"/><circle cx="154.1" cy="446.5" r="2.35"/><circle cx="123.2" cy="445.6" r="2.35"/><circle cx="138.7" cy="445.3" r="2.35"/><circle cx="133.5" cy="444.5" r="2.35"/><circle cx="143.8" cy="444.2" r="2.35"/><circle cx="149.0" cy="443.1" r="2.35"/><circle cx="128.4" cy="443.1" r="2.35"/><circle cx="138.7" cy="439.4" r="2.35"/><circle cx="143.8" cy="439.3" r="2.35"/><circle cx="133.5" cy="437.8" r="2.35"/><circle cx="149.0" cy="436.6" r="2.35"/><circle cx="128.4" cy="436.5" r="2.35"/><circle cx="138.7" cy="434.0" r="2.35"/><circle cx="143.8" cy="433.4" r="2.35"/><circle cx="133.5" cy="431.9" r="2.35"/><circle cx="149.0" cy="430.6" r="2.35"/><circle cx="128.4" cy="430.4" r="2.35"/><circle cx="138.7" cy="428.2" r="2.35"/><circle cx="143.8" cy="426.7" r="2.35"/><circle cx="133.5" cy="426.5" r="2.35"/><circle cx="138.7" cy="423.0" r="2.35"/><circle cx="149.0" cy="422.8" r="2.35"/><circle cx="138.7" cy="417.6" r="2.35"/><circle cx="143.8" cy="414.6" r="2.35"/><circle cx="133.5" cy="414.4" r="2.35"/><circle cx="128.4" cy="414.0" r="2.35"/><circle cx="149.0" cy="413.5" r="2.35"/><circle cx="138.7" cy="411.8" r="2.35"/><circle cx="154.1" cy="410.3" r="2.35"/><circle cx="123.2" cy="410.3" r="2.35"/><circle cx="143.8" cy="410.0" r="2.35"/><circle cx="133.5" cy="409.7" r="2.35"/><circle cx="149.0" cy="407.8" r="2.35"/><circle cx="128.4" cy="407.5" r="2.35"/><circle cx="138.7" cy="406.8" r="2.35"/><circle cx="154.1" cy="406.4" r="2.35"/><circle cx="123.2" cy="405.8" r="2.35"/><circle cx="143.8" cy="405.2" r="2.35"/><circle cx="133.5" cy="402.8" r="2.35"/><circle cx="138.7" cy="401.0" r="2.35"/><circle cx="143.8" cy="400.2" r="2.35"/><circle cx="128.4" cy="399.6" r="2.35"/><circle cx="133.5" cy="397.5" r="2.35"/><circle cx="149.0" cy="397.0" r="2.35"/><circle cx="154.1" cy="396.5" r="2.35"/><circle cx="138.7" cy="394.0" r="2.35"/><circle cx="143.8" cy="393.5" r="2.35"/><circle cx="128.4" cy="393.0" r="2.35"/><circle cx="133.5" cy="390.0" r="2.35"/><circle cx="138.7" cy="388.5" r="2.35"/><circle cx="143.8" cy="388.0" r="2.35"/><circle cx="133.5" cy="384.6" r="2.35"/><circle cx="128.4" cy="384.6" r="2.35"/><circle cx="138.7" cy="381.0" r="2.35"/><circle cx="143.8" cy="381.0" r="2.35"/><circle cx="133.5" cy="377.0" r="2.35"/><circle cx="128.4" cy="377.0" r="2.35"/><circle cx="138.7" cy="371.5" r="2.35"/><circle cx="143.8" cy="369.5" r="2.35"/><circle cx="133.5" cy="369.5" r="2.35"/><circle cx="138.7" cy="363.0" r="2.35"/><circle cx="143.8" cy="363.0" r="2.35"/><circle cx="133.5" cy="363.0" r="2.35"/><circle cx="138.7" cy="352.0" r="2.35"/><circle cx="138.7" cy="339.0" r="2.35"/><circle cx="138.7" cy="329.0" r="2.35"/><circle cx="138.7" cy="320.1" r="2.35"/><circle cx="128.5" cy="484.2" r="2.35"/><circle cx="149.0" cy="484.2" r="2.35"/></g>
<g fill="#000"><circle cx="190.8" cy="374.3" r="2.35"/><circle cx="192.3" cy="373.4" r="2.35"/><circle cx="189.7" cy="377.1" r="2.35"/><circle cx="193.6" cy="376.5" r="2.35"/><circle cx="192.2" cy="380.1" r="2.35"/><circle cx="190.6" cy="383.5" r="2.35"/><circle cx="192.0" cy="385.9" r="2.35"/><circle cx="190.6" cy="388.7" r="2.35"/><circle cx="193.0" cy="389.2" r="2.35"/><circle cx="190.1" cy="391.8" r="2.35"/><circle cx="194.0" cy="392.5" r="2.35"/><circle cx="187.6" cy="395.7" r="2.35"/><circle cx="190.8" cy="394.7" r="2.35"/><circle cx="195.6" cy="395.1" r="2.35"/><circle cx="186.2" cy="399.8" r="2.35"/><circle cx="190.5" cy="399.4" r="2.35"/><circle cx="193.4" cy="399.0" r="2.35"/><circle cx="196.5" cy="398.0" r="2.35"/><circle cx="188.2" cy="401.2" r="2.35"/><circle cx="192.2" cy="402.8" r="2.35"/><circle cx="195.0" cy="401.6" r="2.35"/><circle cx="187.1" cy="406.1" r="2.35"/><circle cx="191.2" cy="404.0" r="2.35"/><circle cx="194.7" cy="405.5" r="2.35"/><circle cx="184.7" cy="408.1" r="2.35"/><circle cx="188.1" cy="408.6" r="2.35"/><circle cx="190.9" cy="408.3" r="2.35"/><circle cx="194.8" cy="408.4" r="2.35"/><circle cx="197.5" cy="407.4" r="2.35"/><circle cx="186.1" cy="410.9" r="2.35"/><circle cx="189.6" cy="410.8" r="2.35"/><circle cx="192.7" cy="410.2" r="2.35"/><circle cx="198.0" cy="411.8" r="2.35"/><circle cx="186.4" cy="414.7" r="2.35"/><circle cx="190.3" cy="415.3" r="2.35"/><circle cx="193.0" cy="415.4" r="2.35"/><circle cx="197.6" cy="414.5" r="2.35"/><circle cx="184.5" cy="417.1" r="2.35"/><circle cx="187.5" cy="418.2" r="2.35"/><circle cx="190.8" cy="416.5" r="2.35"/><circle cx="195.4" cy="418.0" r="2.35"/><circle cx="198.3" cy="418.1" r="2.35"/><circle cx="183.6" cy="420.0" r="2.35"/><circle cx="187.6" cy="419.8" r="2.35"/><circle cx="190.6" cy="420.1" r="2.35"/><circle cx="195.8" cy="421.6" r="2.35"/><circle cx="199.2" cy="420.5" r="2.35"/><circle cx="184.8" cy="423.7" r="2.35"/><circle cx="188.1" cy="422.6" r="2.35"/><circle cx="190.9" cy="424.3" r="2.35"/><circle cx="195.6" cy="424.4" r="2.35"/><circle cx="199.0" cy="423.4" r="2.35"/><circle cx="184.8" cy="426.3" r="2.35"/><circle cx="187.9" cy="426.2" r="2.35"/><circle cx="191.9" cy="425.6" r="2.35"/><circle cx="195.3" cy="427.7" r="2.35"/><circle cx="197.7" cy="426.9" r="2.35"/><circle cx="185.1" cy="430.0" r="2.35"/><circle cx="187.5" cy="429.6" r="2.35"/><circle cx="192.2" cy="430.7" r="2.35"/><circle cx="194.2" cy="428.9" r="2.35"/><circle cx="197.6" cy="428.8" r="2.35"/><circle cx="184.2" cy="433.7" r="2.35"/><circle cx="188.4" cy="432.1" r="2.35"/><circle cx="191.5" cy="432.5" r="2.35"/><circle cx="194.7" cy="432.3" r="2.35"/><circle cx="197.3" cy="432.2" r="2.35"/><circle cx="185.3" cy="436.1" r="2.35"/><circle cx="187.3" cy="436.5" r="2.35"/><circle cx="192.1" cy="436.6" r="2.35"/><circle cx="195.2" cy="434.9" r="2.35"/><circle cx="197.8" cy="435.0" r="2.35"/><circle cx="182.4" cy="439.6" r="2.35"/><circle cx="185.9" cy="439.5" r="2.35"/><circle cx="189.4" cy="438.1" r="2.35"/><circle cx="192.9" cy="438.7" r="2.35"/><circle cx="197.2" cy="438.6" r="2.35"/><circle cx="199.8" cy="439.2" r="2.35"/><circle cx="180.7" cy="442.4" r="2.35"/><circle cx="184.8" cy="442.7" r="2.35"/><circle cx="188.9" cy="441.8" r="2.35"/><circle cx="191.8" cy="442.3" r="2.35"/><circle cx="194.8" cy="441.2" r="2.35"/><circle cx="198.6" cy="443.2" r="2.35"/><circle cx="201.1" cy="441.8" r="2.35"/><circle cx="179.8" cy="444.4" r="2.35"/><circle cx="183.4" cy="446.0" r="2.35"/><circle cx="188.2" cy="445.2" r="2.35"/><circle cx="191.6" cy="444.2" r="2.35"/><circle cx="195.3" cy="445.2" r="2.35"/><circle cx="198.7" cy="445.1" r="2.35"/><circle cx="202.1" cy="444.7" r="2.35"/><circle cx="181.7" cy="447.8" r="2.35"/><circle cx="186.0" cy="449.1" r="2.35"/><circle cx="189.9" cy="448.3" r="2.35"/><circle cx="192.8" cy="448.1" r="2.35"/><circle cx="197.1" cy="448.7" r="2.35"/><circle cx="201.8" cy="447.5" r="2.35"/><circle cx="180.7" cy="452.0" r="2.35"/><circle cx="185.0" cy="452.1" r="2.35"/><circle cx="188.1" cy="452.1" r="2.35"/><circle cx="191.7" cy="452.3" r="2.35"/><circle cx="195.3" cy="451.9" r="2.35"/><circle cx="198.1" cy="452.4" r="2.35"/><circle cx="201.9" cy="451.8" r="2.35"/><circle cx="181.5" cy="455.7" r="2.35"/><circle cx="183.3" cy="454.2" r="2.35"/><circle cx="187.5" cy="454.4" r="2.35"/><circle cx="190.8" cy="454.7" r="2.35"/><circle cx="194.2" cy="454.2" r="2.35"/><circle cx="199.4" cy="455.1" r="2.35"/><circle cx="202.1" cy="453.7" r="2.35"/><circle cx="181.4" cy="457.1" r="2.35"/><circle cx="184.2" cy="458.0" r="2.35"/><circle cx="188.3" cy="457.2" r="2.35"/><circle cx="192.2" cy="457.3" r="2.35"/><circle cx="194.4" cy="458.5" r="2.35"/><circle cx="197.7" cy="458.1" r="2.35"/><circle cx="201.2" cy="457.9" r="2.35"/><circle cx="184.1" cy="461.8" r="2.35"/><circle cx="187.8" cy="460.7" r="2.35"/><circle cx="191.6" cy="460.3" r="2.35"/><circle cx="194.4" cy="460.5" r="2.35"/><circle cx="198.1" cy="460.1" r="2.35"/><circle cx="184.1" cy="464.6" r="2.35"/><circle cx="188.9" cy="464.4" r="2.35"/><circle cx="190.5" cy="463.9" r="2.35"/><circle cx="193.8" cy="464.1" r="2.35"/><circle cx="198.3" cy="463.3" r="2.35"/><circle cx="186.8" cy="466.1" r="2.35"/><circle cx="189.5" cy="466.9" r="2.35"/><circle cx="193.7" cy="466.7" r="2.35"/><circle cx="195.4" cy="467.6" r="2.35"/><circle cx="181.6" cy="469.1" r="2.35"/><circle cx="184.3" cy="469.9" r="2.35"/><circle cx="188.2" cy="469.5" r="2.35"/><circle cx="191.9" cy="470.9" r="2.35"/><circle cx="195.5" cy="470.9" r="2.35"/><circle cx="197.1" cy="470.3" r="2.35"/><circle cx="200.5" cy="471.0" r="2.35"/><circle cx="176.9" cy="472.5" r="2.35"/><circle cx="178.9" cy="473.9" r="2.35"/><circle cx="183.3" cy="473.5" r="2.35"/><circle cx="186.4" cy="473.9" r="2.35"/><circle cx="189.4" cy="472.7" r="2.35"/><circle cx="192.8" cy="472.8" r="2.35"/><circle cx="196.6" cy="474.1" r="2.35"/><circle cx="199.0" cy="472.2" r="2.35"/><circle cx="203.1" cy="473.6" r="2.35"/><circle cx="205.8" cy="472.7" r="2.35"/><circle cx="176.4" cy="476.3" r="2.35"/><circle cx="181.1" cy="476.6" r="2.35"/><circle cx="183.7" cy="475.4" r="2.35"/><circle cx="188.6" cy="476.4" r="2.35"/><circle cx="191.2" cy="476.7" r="2.35"/><circle cx="195.4" cy="476.4" r="2.35"/><circle cx="197.7" cy="477.0" r="2.35"/><circle cx="201.5" cy="475.3" r="2.35"/><circle cx="205.3" cy="476.4" r="2.35"/><circle cx="178.3" cy="479.9" r="2.35"/><circle cx="182.4" cy="478.7" r="2.35"/><circle cx="186.7" cy="480.1" r="2.35"/><circle cx="190.3" cy="479.8" r="2.35"/><circle cx="192.7" cy="480.0" r="2.35"/><circle cx="197.5" cy="479.5" r="2.35"/><circle cx="201.1" cy="480.4" r="2.35"/><circle cx="203.7" cy="480.4" r="2.35"/><circle cx="186.7" cy="481.4" r="2.35"/><circle cx="189.4" cy="482.7" r="2.35"/><circle cx="193.4" cy="483.1" r="2.35"/><circle cx="196.9" cy="481.8" r="2.35"/><circle cx="191.4" cy="354.0" r="2.35"/><circle cx="190.6" cy="362.0" r="2.35"/><circle cx="192.4" cy="367.5" r="2.35"/></g>
<g fill="#000"><circle cx="243.4" cy="392.7" r="2.35"/><circle cx="243.6" cy="396.1" r="2.35"/><circle cx="243.5" cy="398.5" r="2.35"/><circle cx="242.5" cy="401.5" r="2.35"/><circle cx="246.5" cy="401.0" r="2.35"/><circle cx="244.0" cy="404.4" r="2.35"/><circle cx="244.4" cy="404.3" r="2.35"/><circle cx="243.9" cy="407.2" r="2.35"/><circle cx="242.3" cy="411.2" r="2.35"/><circle cx="246.5" cy="410.1" r="2.35"/><circle cx="242.1" cy="414.2" r="2.35"/><circle cx="243.3" cy="413.7" r="2.35"/><circle cx="247.2" cy="413.6" r="2.35"/><circle cx="240.8" cy="416.6" r="2.35"/><circle cx="243.6" cy="416.5" r="2.35"/><circle cx="247.4" cy="415.4" r="2.35"/><circle cx="239.5" cy="418.9" r="2.35"/><circle cx="242.9" cy="419.7" r="2.35"/><circle cx="246.3" cy="420.0" r="2.35"/><circle cx="249.3" cy="419.6" r="2.35"/><circle cx="240.8" cy="422.2" r="2.35"/><circle cx="244.2" cy="422.3" r="2.35"/><circle cx="246.3" cy="421.4" r="2.35"/><circle cx="240.7" cy="425.3" r="2.35"/><circle cx="243.5" cy="424.7" r="2.35"/><circle cx="248.3" cy="425.2" r="2.35"/><circle cx="240.4" cy="427.7" r="2.35"/><circle cx="244.6" cy="427.7" r="2.35"/><circle cx="247.8" cy="427.9" r="2.35"/><circle cx="242.4" cy="431.6" r="2.35"/><circle cx="244.5" cy="430.1" r="2.35"/><circle cx="242.7" cy="434.2" r="2.35"/><circle cx="245.8" cy="433.6" r="2.35"/><circle cx="240.0" cy="436.3" r="2.35"/><circle cx="244.3" cy="436.7" r="2.35"/><circle cx="247.1" cy="435.8" r="2.35"/><circle cx="240.3" cy="439.7" r="2.35"/><circle cx="243.5" cy="439.9" r="2.35"/><circle cx="245.1" cy="439.9" r="2.35"/><circle cx="249.0" cy="439.1" r="2.35"/><circle cx="238.0" cy="441.9" r="2.35"/><circle cx="240.6" cy="441.5" r="2.35"/><circle cx="243.5" cy="443.0" r="2.35"/><circle cx="246.3" cy="442.5" r="2.35"/><circle cx="249.5" cy="441.7" r="2.35"/><circle cx="234.4" cy="444.6" r="2.35"/><circle cx="237.8" cy="445.6" r="2.35"/><circle cx="241.0" cy="445.8" r="2.35"/><circle cx="243.9" cy="445.2" r="2.35"/><circle cx="247.6" cy="445.1" r="2.35"/><circle cx="250.7" cy="445.1" r="2.35"/><circle cx="252.8" cy="444.5" r="2.35"/><circle cx="233.7" cy="448.9" r="2.35"/><circle cx="236.7" cy="448.2" r="2.35"/><circle cx="239.0" cy="448.7" r="2.35"/><circle cx="242.0" cy="448.0" r="2.35"/><circle cx="245.1" cy="447.9" r="2.35"/><circle cx="248.4" cy="448.0" r="2.35"/><circle cx="252.1" cy="448.2" r="2.35"/><circle cx="254.5" cy="448.6" r="2.35"/><circle cx="232.6" cy="450.2" r="2.35"/><circle cx="235.3" cy="451.7" r="2.35"/><circle cx="237.7" cy="450.5" r="2.35"/><circle cx="241.6" cy="450.8" r="2.35"/><circle cx="243.9" cy="451.6" r="2.35"/><circle cx="246.9" cy="450.5" r="2.35"/><circle cx="249.7" cy="450.7" r="2.35"/><circle cx="253.4" cy="450.8" r="2.35"/><circle cx="256.6" cy="450.2" r="2.35"/><circle cx="233.9" cy="453.9" r="2.35"/><circle cx="237.2" cy="454.7" r="2.35"/><circle cx="240.3" cy="453.3" r="2.35"/><circle cx="243.4" cy="453.9" r="2.35"/><circle cx="247.2" cy="453.9" r="2.35"/><circle cx="250.2" cy="453.0" r="2.35"/><circle cx="254.3" cy="454.4" r="2.35"/><circle cx="234.8" cy="456.9" r="2.35"/><circle cx="237.3" cy="457.3" r="2.35"/><circle cx="240.4" cy="457.0" r="2.35"/><circle cx="244.7" cy="456.9" r="2.35"/><circle cx="247.1" cy="456.1" r="2.35"/><circle cx="250.8" cy="456.2" r="2.35"/><circle cx="253.8" cy="456.9" r="2.35"/><circle cx="232.1" cy="459.7" r="2.35"/><circle cx="235.4" cy="459.4" r="2.35"/><circle cx="237.8" cy="460.0" r="2.35"/><circle cx="241.1" cy="459.2" r="2.35"/><circle cx="244.0" cy="460.3" r="2.35"/><circle cx="246.8" cy="460.1" r="2.35"/><circle cx="249.5" cy="460.5" r="2.35"/><circle cx="253.6" cy="459.4" r="2.35"/><circle cx="257.2" cy="460.2" r="2.35"/><circle cx="231.9" cy="462.6" r="2.35"/><circle cx="236.5" cy="462.0" r="2.35"/><circle cx="238.3" cy="462.3" r="2.35"/><circle cx="241.7" cy="462.4" r="2.35"/><circle cx="245.8" cy="462.5" r="2.35"/><circle cx="248.6" cy="461.7" r="2.35"/><circle cx="253.0" cy="462.5" r="2.35"/><circle cx="255.9" cy="462.6" r="2.35"/><circle cx="232.3" cy="466.1" r="2.35"/><circle cx="235.1" cy="465.2" r="2.35"/><circle cx="237.4" cy="464.8" r="2.35"/><circle cx="241.6" cy="464.7" r="2.35"/><circle cx="244.2" cy="466.2" r="2.35"/><circle cx="246.9" cy="465.3" r="2.35"/><circle cx="250.2" cy="466.3" r="2.35"/><circle cx="253.7" cy="466.1" r="2.35"/><circle cx="255.8" cy="465.9" r="2.35"/><circle cx="232.2" cy="469.0" r="2.35"/><circle cx="236.1" cy="469.1" r="2.35"/><circle cx="239.4" cy="469.1" r="2.35"/><circle cx="242.3" cy="468.5" r="2.35"/><circle cx="246.2" cy="468.3" r="2.35"/><circle cx="248.6" cy="468.6" r="2.35"/><circle cx="253.1" cy="469.1" r="2.35"/><circle cx="255.3" cy="468.2" r="2.35"/><circle cx="230.9" cy="472.1" r="2.35"/><circle cx="234.3" cy="471.0" r="2.35"/><circle cx="237.3" cy="471.2" r="2.35"/><circle cx="241.1" cy="471.0" r="2.35"/><circle cx="243.6" cy="470.8" r="2.35"/><circle cx="246.9" cy="472.0" r="2.35"/><circle cx="250.0" cy="471.8" r="2.35"/><circle cx="253.2" cy="471.8" r="2.35"/><circle cx="256.6" cy="471.8" r="2.35"/><circle cx="230.2" cy="473.5" r="2.35"/><circle cx="234.7" cy="474.3" r="2.35"/><circle cx="237.5" cy="473.9" r="2.35"/><circle cx="241.1" cy="474.2" r="2.35"/><circle cx="243.4" cy="474.4" r="2.35"/><circle cx="247.1" cy="474.8" r="2.35"/><circle cx="250.8" cy="474.7" r="2.35"/><circle cx="253.4" cy="474.6" r="2.35"/><circle cx="257.5" cy="474.8" r="2.35"/><circle cx="231.7" cy="477.3" r="2.35"/><circle cx="235.2" cy="476.7" r="2.35"/><circle cx="237.9" cy="477.6" r="2.35"/><circle cx="241.1" cy="477.2" r="2.35"/><circle cx="244.7" cy="478.0" r="2.35"/><circle cx="246.8" cy="476.3" r="2.35"/><circle cx="250.5" cy="476.5" r="2.35"/><circle cx="254.2" cy="477.1" r="2.35"/><circle cx="256.6" cy="477.7" r="2.35"/><circle cx="233.6" cy="479.9" r="2.35"/><circle cx="236.9" cy="479.9" r="2.35"/><circle cx="240.2" cy="480.7" r="2.35"/><circle cx="243.9" cy="479.8" r="2.35"/><circle cx="248.1" cy="480.6" r="2.35"/><circle cx="250.5" cy="480.0" r="2.35"/><circle cx="254.3" cy="479.4" r="2.35"/><circle cx="237.4" cy="482.3" r="2.35"/><circle cx="240.1" cy="483.3" r="2.35"/><circle cx="242.8" cy="482.6" r="2.35"/><circle cx="246.1" cy="483.4" r="2.35"/><circle cx="247.8" cy="483.6" r="2.35"/><circle cx="251.6" cy="482.5" r="2.35"/><circle cx="236.4" cy="486.4" r="2.35"/><circle cx="241.1" cy="485.5" r="2.35"/><circle cx="243.6" cy="485.0" r="2.35"/><circle cx="247.5" cy="485.4" r="2.35"/><circle cx="250.4" cy="485.4" r="2.35"/><circle cx="244.1" cy="367.5" r="2.35"/><circle cx="244.0" cy="375.5" r="2.35"/></g>
<g fill="#000"><circle cx="296.1" cy="361.5" r="2.35"/><circle cx="294.2" cy="364.1" r="2.35"/><circle cx="296.6" cy="365.4" r="2.35"/><circle cx="301.1" cy="363.4" r="2.35"/><circle cx="296.2" cy="367.0" r="2.35"/><circle cx="299.7" cy="369.4" r="2.35"/><circle cx="291.2" cy="371.2" r="2.35"/><circle cx="295.6" cy="372.0" r="2.35"/><circle cx="298.1" cy="372.0" r="2.35"/><circle cx="302.4" cy="371.3" r="2.35"/><circle cx="292.2" cy="375.1" r="2.35"/><circle cx="297.0" cy="375.5" r="2.35"/><circle cx="300.0" cy="374.4" r="2.35"/><circle cx="295.5" cy="378.2" r="2.35"/><circle cx="298.8" cy="378.3" r="2.35"/><circle cx="293.9" cy="382.4" r="2.35"/><circle cx="297.6" cy="381.5" r="2.35"/><circle cx="300.0" cy="381.7" r="2.35"/><circle cx="292.4" cy="386.6" r="2.35"/><circle cx="297.7" cy="385.6" r="2.35"/><circle cx="299.8" cy="385.2" r="2.35"/><circle cx="291.7" cy="389.9" r="2.35"/><circle cx="294.9" cy="388.7" r="2.35"/><circle cx="297.7" cy="389.7" r="2.35"/><circle cx="301.4" cy="390.5" r="2.35"/><circle cx="293.7" cy="393.8" r="2.35"/><circle cx="297.7" cy="394.2" r="2.35"/><circle cx="301.7" cy="393.9" r="2.35"/><circle cx="292.9" cy="397.5" r="2.35"/><circle cx="296.2" cy="397.1" r="2.35"/><circle cx="301.1" cy="396.0" r="2.35"/><circle cx="290.6" cy="400.3" r="2.35"/><circle cx="295.0" cy="401.1" r="2.35"/><circle cx="299.5" cy="399.6" r="2.35"/><circle cx="303.2" cy="400.7" r="2.35"/><circle cx="291.0" cy="403.9" r="2.35"/><circle cx="295.6" cy="404.9" r="2.35"/><circle cx="299.1" cy="404.9" r="2.35"/><circle cx="302.1" cy="404.1" r="2.35"/><circle cx="293.5" cy="407.1" r="2.35"/><circle cx="296.5" cy="407.7" r="2.35"/><circle cx="300.1" cy="409.0" r="2.35"/><circle cx="291.3" cy="411.4" r="2.35"/><circle cx="294.3" cy="411.1" r="2.35"/><circle cx="299.4" cy="412.2" r="2.35"/><circle cx="302.9" cy="412.0" r="2.35"/><circle cx="291.0" cy="414.7" r="2.35"/><circle cx="294.5" cy="414.5" r="2.35"/><circle cx="298.9" cy="414.2" r="2.35"/><circle cx="303.9" cy="414.2" r="2.35"/><circle cx="290.9" cy="419.6" r="2.35"/><circle cx="294.8" cy="419.7" r="2.35"/><circle cx="300.0" cy="417.5" r="2.35"/><circle cx="303.5" cy="419.1" r="2.35"/><circle cx="290.4" cy="423.2" r="2.35"/><circle cx="295.8" cy="421.7" r="2.35"/><circle cx="298.7" cy="421.9" r="2.35"/><circle cx="302.9" cy="421.3" r="2.35"/><circle cx="287.3" cy="425.6" r="2.35"/><circle cx="290.9" cy="425.8" r="2.35"/><circle cx="295.7" cy="424.8" r="2.35"/><circle cx="298.9" cy="425.7" r="2.35"/><circle cx="302.9" cy="426.8" r="2.35"/><circle cx="306.5" cy="425.2" r="2.35"/><circle cx="283.2" cy="429.1" r="2.35"/><circle cx="287.2" cy="430.6" r="2.35"/><circle cx="291.6" cy="429.5" r="2.35"/><circle cx="295.5" cy="429.7" r="2.35"/><circle cx="298.8" cy="429.4" r="2.35"/><circle cx="303.8" cy="429.6" r="2.35"/><circle cx="306.8" cy="428.2" r="2.35"/><circle cx="310.3" cy="429.7" r="2.35"/><circle cx="281.4" cy="433.2" r="2.35"/><circle cx="286.3" cy="432.4" r="2.35"/><circle cx="291.4" cy="433.3" r="2.35"/><circle cx="295.0" cy="433.1" r="2.35"/><circle cx="298.6" cy="433.5" r="2.35"/><circle cx="302.3" cy="432.6" r="2.35"/><circle cx="307.5" cy="432.2" r="2.35"/><circle cx="310.7" cy="433.1" r="2.35"/><circle cx="282.8" cy="436.1" r="2.35"/><circle cx="286.2" cy="437.0" r="2.35"/><circle cx="291.9" cy="437.5" r="2.35"/><circle cx="294.0" cy="436.1" r="2.35"/><circle cx="298.6" cy="437.3" r="2.35"/><circle cx="303.1" cy="437.5" r="2.35"/><circle cx="306.6" cy="436.5" r="2.35"/><circle cx="311.4" cy="436.6" r="2.35"/><circle cx="281.9" cy="439.9" r="2.35"/><circle cx="286.1" cy="440.1" r="2.35"/><circle cx="290.4" cy="441.2" r="2.35"/><circle cx="294.1" cy="439.0" r="2.35"/><circle cx="298.7" cy="441.2" r="2.35"/><circle cx="302.8" cy="439.0" r="2.35"/><circle cx="306.3" cy="440.0" r="2.35"/><circle cx="311.9" cy="441.0" r="2.35"/><circle cx="281.9" cy="443.0" r="2.35"/><circle cx="287.3" cy="443.9" r="2.35"/><circle cx="291.8" cy="443.3" r="2.35"/><circle cx="295.9" cy="444.4" r="2.35"/><circle cx="299.8" cy="444.5" r="2.35"/><circle cx="303.6" cy="443.6" r="2.35"/><circle cx="307.4" cy="444.2" r="2.35"/><circle cx="311.4" cy="444.3" r="2.35"/><circle cx="281.3" cy="448.5" r="2.35"/><circle cx="286.3" cy="446.3" r="2.35"/><circle cx="289.0" cy="446.3" r="2.35"/><circle cx="293.9" cy="447.0" r="2.35"/><circle cx="296.6" cy="448.4" r="2.35"/><circle cx="300.3" cy="446.9" r="2.35"/><circle cx="303.7" cy="446.8" r="2.35"/><circle cx="308.4" cy="446.6" r="2.35"/><circle cx="312.8" cy="447.5" r="2.35"/><circle cx="281.6" cy="452.1" r="2.35"/><circle cx="285.4" cy="451.7" r="2.35"/><circle cx="289.7" cy="451.4" r="2.35"/><circle cx="293.1" cy="450.3" r="2.35"/><circle cx="297.7" cy="449.9" r="2.35"/><circle cx="301.0" cy="449.9" r="2.35"/><circle cx="304.5" cy="451.5" r="2.35"/><circle cx="308.3" cy="451.1" r="2.35"/><circle cx="312.0" cy="451.7" r="2.35"/><circle cx="285.0" cy="453.7" r="2.35"/><circle cx="288.4" cy="455.0" r="2.35"/><circle cx="292.9" cy="455.2" r="2.35"/><circle cx="297.7" cy="455.5" r="2.35"/><circle cx="300.4" cy="455.2" r="2.35"/><circle cx="305.8" cy="455.4" r="2.35"/><circle cx="310.6" cy="453.6" r="2.35"/><circle cx="284.5" cy="459.3" r="2.35"/><circle cx="288.8" cy="459.1" r="2.35"/><circle cx="292.3" cy="458.9" r="2.35"/><circle cx="297.3" cy="459.2" r="2.35"/><circle cx="301.6" cy="458.9" r="2.35"/><circle cx="305.9" cy="458.0" r="2.35"/><circle cx="308.7" cy="457.5" r="2.35"/><circle cx="286.2" cy="460.8" r="2.35"/><circle cx="291.1" cy="462.3" r="2.35"/><circle cx="294.1" cy="462.3" r="2.35"/><circle cx="298.6" cy="462.9" r="2.35"/><circle cx="303.8" cy="462.5" r="2.35"/><circle cx="307.9" cy="462.4" r="2.35"/><circle cx="288.3" cy="464.3" r="2.35"/><circle cx="293.3" cy="464.4" r="2.35"/><circle cx="297.8" cy="466.4" r="2.35"/><circle cx="300.7" cy="464.8" r="2.35"/><circle cx="305.9" cy="464.5" r="2.35"/><circle cx="288.2" cy="469.2" r="2.35"/><circle cx="293.5" cy="468.0" r="2.35"/><circle cx="296.1" cy="469.5" r="2.35"/><circle cx="300.3" cy="468.6" r="2.35"/><circle cx="304.5" cy="468.3" r="2.35"/><circle cx="289.0" cy="471.6" r="2.35"/><circle cx="294.0" cy="471.6" r="2.35"/><circle cx="296.3" cy="471.6" r="2.35"/><circle cx="301.2" cy="472.0" r="2.35"/><circle cx="303.9" cy="472.5" r="2.35"/><circle cx="290.5" cy="477.0" r="2.35"/><circle cx="294.9" cy="476.1" r="2.35"/><circle cx="299.9" cy="476.9" r="2.35"/><circle cx="303.5" cy="475.7" r="2.35"/><circle cx="288.5" cy="479.0" r="2.35"/><circle cx="293.1" cy="479.7" r="2.35"/><circle cx="296.3" cy="479.8" r="2.35"/><circle cx="301.6" cy="479.4" r="2.35"/><circle cx="303.7" cy="478.8" r="2.35"/><circle cx="290.6" cy="484.3" r="2.35"/><circle cx="296.0" cy="482.7" r="2.35"/><circle cx="298.0" cy="483.7" r="2.35"/><circle cx="303.2" cy="483.3" r="2.35"/><circle cx="285.7" cy="432.1" r="2.35"/><circle cx="289.9" cy="433.4" r="2.35"/><circle cx="295.4" cy="432.9" r="2.35"/><circle cx="299.3" cy="431.8" r="2.35"/><circle cx="303.9" cy="432.7" r="2.35"/><circle cx="309.6" cy="433.1" r="2.35"/><circle cx="282.8" cy="436.8" r="2.35"/><circle cx="289.4" cy="438.4" r="2.35"/><circle cx="293.9" cy="436.6" r="2.35"/><circle cx="299.8" cy="437.6" r="2.35"/><circle cx="306.1" cy="437.8" r="2.35"/><circle cx="311.0" cy="437.8" r="2.35"/><circle cx="282.1" cy="441.1" r="2.35"/><circle cx="289.8" cy="443.0" r="2.35"/><circle cx="293.7" cy="443.1" r="2.35"/><circle cx="299.8" cy="441.2" r="2.35"/><circle cx="306.2" cy="442.4" r="2.35"/><circle cx="311.9" cy="442.6" r="2.35"/><circle cx="284.2" cy="447.5" r="2.35"/><circle cx="290.1" cy="446.4" r="2.35"/><circle cx="294.5" cy="447.3" r="2.35"/><circle cx="298.8" cy="447.6" r="2.35"/><circle cx="305.5" cy="445.7" r="2.35"/><circle cx="310.3" cy="446.5" r="2.35"/><circle cx="284.2" cy="452.5" r="2.35"/><circle cx="289.3" cy="450.5" r="2.35"/><circle cx="294.4" cy="452.1" r="2.35"/><circle cx="300.7" cy="451.9" r="2.35"/><circle cx="303.7" cy="452.5" r="2.35"/><circle cx="310.3" cy="450.4" r="2.35"/><circle cx="297.0" cy="306.3" r="2.35"/><circle cx="296.8" cy="343.2" r="2.35"/><circle cx="295.3" cy="350.0" r="2.35"/><circle cx="299.0" cy="350.3" r="2.35"/><circle cx="297.0" cy="357.5" r="2.35"/></g>
<g fill="#000"><circle cx="349.6" cy="353.6" r="2.35"/><circle cx="347.8" cy="357.5" r="2.35"/><circle cx="351.4" cy="356.5" r="2.35"/><circle cx="348.6" cy="359.8" r="2.35"/><circle cx="351.4" cy="359.9" r="2.35"/><circle cx="349.0" cy="363.2" r="2.35"/><circle cx="349.0" cy="368.2" r="2.35"/><circle cx="349.9" cy="367.7" r="2.35"/><circle cx="348.5" cy="372.0" r="2.35"/><circle cx="352.2" cy="370.3" r="2.35"/><circle cx="346.2" cy="375.4" r="2.35"/><circle cx="349.7" cy="375.6" r="2.35"/><circle cx="354.2" cy="375.4" r="2.35"/><circle cx="346.0" cy="378.4" r="2.35"/><circle cx="349.1" cy="379.4" r="2.35"/><circle cx="354.1" cy="377.0" r="2.35"/><circle cx="345.7" cy="381.1" r="2.35"/><circle cx="350.7" cy="380.9" r="2.35"/><circle cx="354.5" cy="381.9" r="2.35"/><circle cx="346.4" cy="385.3" r="2.35"/><circle cx="349.0" cy="386.0" r="2.35"/><circle cx="353.2" cy="386.6" r="2.35"/><circle cx="345.5" cy="390.2" r="2.35"/><circle cx="350.7" cy="389.3" r="2.35"/><circle cx="354.8" cy="389.1" r="2.35"/><circle cx="344.8" cy="393.4" r="2.35"/><circle cx="348.5" cy="391.5" r="2.35"/><circle cx="351.6" cy="391.6" r="2.35"/><circle cx="355.8" cy="392.8" r="2.35"/><circle cx="345.0" cy="395.5" r="2.35"/><circle cx="348.4" cy="396.4" r="2.35"/><circle cx="351.1" cy="397.3" r="2.35"/><circle cx="354.4" cy="396.1" r="2.35"/><circle cx="345.0" cy="401.0" r="2.35"/><circle cx="349.9" cy="400.7" r="2.35"/><circle cx="354.4" cy="399.8" r="2.35"/><circle cx="345.9" cy="403.2" r="2.35"/><circle cx="350.4" cy="402.5" r="2.35"/><circle cx="353.9" cy="404.5" r="2.35"/><circle cx="345.7" cy="407.4" r="2.35"/><circle cx="350.3" cy="407.1" r="2.35"/><circle cx="354.2" cy="408.1" r="2.35"/><circle cx="344.8" cy="411.0" r="2.35"/><circle cx="348.4" cy="410.5" r="2.35"/><circle cx="350.7" cy="411.3" r="2.35"/><circle cx="354.8" cy="411.3" r="2.35"/><circle cx="342.8" cy="414.0" r="2.35"/><circle cx="346.7" cy="413.9" r="2.35"/><circle cx="349.4" cy="414.4" r="2.35"/><circle cx="353.9" cy="414.6" r="2.35"/><circle cx="357.5" cy="414.0" r="2.35"/><circle cx="341.4" cy="418.1" r="2.35"/><circle cx="344.8" cy="416.9" r="2.35"/><circle cx="350.5" cy="417.1" r="2.35"/><circle cx="353.6" cy="416.7" r="2.35"/><circle cx="358.4" cy="417.4" r="2.35"/><circle cx="342.2" cy="422.4" r="2.35"/><circle cx="346.7" cy="420.2" r="2.35"/><circle cx="350.7" cy="420.4" r="2.35"/><circle cx="353.3" cy="421.5" r="2.35"/><circle cx="357.5" cy="420.5" r="2.35"/><circle cx="340.2" cy="425.6" r="2.35"/><circle cx="345.2" cy="425.2" r="2.35"/><circle cx="347.0" cy="425.4" r="2.35"/><circle cx="351.5" cy="425.6" r="2.35"/><circle cx="355.9" cy="424.1" r="2.35"/><circle cx="359.1" cy="425.3" r="2.35"/><circle cx="341.5" cy="428.9" r="2.35"/><circle cx="346.1" cy="427.8" r="2.35"/><circle cx="350.5" cy="428.8" r="2.35"/><circle cx="354.3" cy="427.8" r="2.35"/><circle cx="358.4" cy="428.4" r="2.35"/><circle cx="345.1" cy="433.0" r="2.35"/><circle cx="347.9" cy="431.2" r="2.35"/><circle cx="352.6" cy="431.3" r="2.35"/><circle cx="355.4" cy="432.4" r="2.35"/><circle cx="342.9" cy="436.0" r="2.35"/><circle cx="346.2" cy="436.9" r="2.35"/><circle cx="350.4" cy="435.5" r="2.35"/><circle cx="354.0" cy="436.9" r="2.35"/><circle cx="357.0" cy="434.8" r="2.35"/><circle cx="343.9" cy="438.7" r="2.35"/><circle cx="348.1" cy="438.7" r="2.35"/><circle cx="351.5" cy="438.6" r="2.35"/><circle cx="357.3" cy="438.4" r="2.35"/><circle cx="341.4" cy="443.1" r="2.35"/><circle cx="343.4" cy="441.8" r="2.35"/><circle cx="348.7" cy="442.5" r="2.35"/><circle cx="350.8" cy="443.1" r="2.35"/><circle cx="355.8" cy="442.5" r="2.35"/><circle cx="358.1" cy="442.2" r="2.35"/><circle cx="342.1" cy="445.6" r="2.35"/><circle cx="346.2" cy="447.0" r="2.35"/><circle cx="349.9" cy="446.3" r="2.35"/><circle cx="353.0" cy="446.6" r="2.35"/><circle cx="357.9" cy="447.0" r="2.35"/><circle cx="341.9" cy="449.0" r="2.35"/><circle cx="346.1" cy="449.1" r="2.35"/><circle cx="349.9" cy="450.0" r="2.35"/><circle cx="353.1" cy="449.5" r="2.35"/><circle cx="357.9" cy="450.2" r="2.35"/><circle cx="342.7" cy="454.4" r="2.35"/><circle cx="346.2" cy="454.7" r="2.35"/><circle cx="350.5" cy="454.2" r="2.35"/><circle cx="352.5" cy="453.6" r="2.35"/><circle cx="357.0" cy="453.0" r="2.35"/><circle cx="342.7" cy="458.0" r="2.35"/><circle cx="346.6" cy="458.0" r="2.35"/><circle cx="349.4" cy="457.7" r="2.35"/><circle cx="353.5" cy="458.0" r="2.35"/><circle cx="356.4" cy="456.6" r="2.35"/><circle cx="340.0" cy="460.4" r="2.35"/><circle cx="344.2" cy="461.7" r="2.35"/><circle cx="348.1" cy="460.9" r="2.35"/><circle cx="351.0" cy="460.4" r="2.35"/><circle cx="356.5" cy="462.0" r="2.35"/><circle cx="359.3" cy="459.9" r="2.35"/><circle cx="337.5" cy="463.9" r="2.35"/><circle cx="341.3" cy="465.3" r="2.35"/><circle cx="344.9" cy="465.8" r="2.35"/><circle cx="348.3" cy="463.9" r="2.35"/><circle cx="351.5" cy="464.4" r="2.35"/><circle cx="355.8" cy="464.2" r="2.35"/><circle cx="359.6" cy="463.5" r="2.35"/><circle cx="362.4" cy="463.9" r="2.35"/><circle cx="335.6" cy="469.1" r="2.35"/><circle cx="338.5" cy="468.1" r="2.35"/><circle cx="342.5" cy="467.6" r="2.35"/><circle cx="347.0" cy="468.7" r="2.35"/><circle cx="352.6" cy="469.0" r="2.35"/><circle cx="355.6" cy="468.0" r="2.35"/><circle cx="359.7" cy="468.6" r="2.35"/><circle cx="363.9" cy="468.8" r="2.35"/><circle cx="340.5" cy="472.7" r="2.35"/><circle cx="345.0" cy="471.2" r="2.35"/><circle cx="348.4" cy="471.3" r="2.35"/><circle cx="350.7" cy="472.6" r="2.35"/><circle cx="354.8" cy="471.3" r="2.35"/><circle cx="359.6" cy="472.6" r="2.35"/><circle cx="347.3" cy="475.2" r="2.35"/><circle cx="351.8" cy="475.5" r="2.35"/><circle cx="347.5" cy="478.8" r="2.35"/><circle cx="351.8" cy="478.3" r="2.35"/><circle cx="346.7" cy="482.1" r="2.35"/><circle cx="349.9" cy="483.0" r="2.35"/><circle cx="352.6" cy="483.6" r="2.35"/><circle cx="349.0" cy="323.6" r="2.35"/><circle cx="351.6" cy="328.0" r="2.35"/><circle cx="348.7" cy="338.5" r="2.35"/><circle cx="351.0" cy="336.5" r="2.35"/><circle cx="348.6" cy="347.5" r="2.35"/><circle cx="350.9" cy="345.5" r="2.35"/></g>
<line x1="51.20" y1="280.40" x2="51.20" y2="494.70" stroke="#000" stroke-width="2.2" />
<line x1="50.10" y1="493.60" x2="385.60" y2="493.60" stroke="#000" stroke-width="2.2" />
<line x1="44.90" y1="493.60" x2="51.20" y2="493.60" stroke="#000" stroke-width="1.9" />
<text x="42.40" y="497.50" font-size="10.8" text-anchor="end" font-weight="bold" fill="#000" style="font-family:'Liberation Sans',sans-serif;stroke:#000;stroke-width:0.25px">0</text>
<line x1="47.40" y1="477.27" x2="51.20" y2="477.27" stroke="#000" stroke-width="1.8" />
<line x1="47.40" y1="460.94" x2="51.20" y2="460.94" stroke="#000" stroke-width="1.8" />
<line x1="47.40" y1="444.61" x2="51.20" y2="444.61" stroke="#000" stroke-width="1.8" />
<line x1="47.40" y1="428.28" x2="51.20" y2="428.28" stroke="#000" stroke-width="1.8" />
<line x1="44.90" y1="411.95" x2="51.20" y2="411.95" stroke="#000" stroke-width="1.9" />
<text x="42.40" y="415.85" font-size="10.8" text-anchor="end" font-weight="bold" fill="#000" style="font-family:'Liberation Sans',sans-serif;stroke:#000;stroke-width:0.25px">5</text>
<line x1="47.40" y1="395.62" x2="51.20" y2="395.62" stroke="#000" stroke-width="1.8" />
<line x1="47.40" y1="379.29" x2="51.20" y2="379.29" stroke="#000" stroke-width="1.8" />
<line x1="47.40" y1="362.96" x2="51.20" y2="362.96" stroke="#000" stroke-width="1.8" />
<line x1="47.40" y1="346.63" x2="51.20" y2="346.63" stroke="#000" stroke-width="1.8" />
<line x1="44.90" y1="330.30" x2="51.20" y2="330.30" stroke="#000" stroke-width="1.9" />
<text x="42.40" y="334.20" font-size="10.8" text-anchor="end" font-weight="bold" fill="#000" style="font-family:'Liberation Sans',sans-serif;stroke:#000;stroke-width:0.25px">10</text>
<line x1="47.40" y1="313.97" x2="51.20" y2="313.97" stroke="#000" stroke-width="1.8" />
<line x1="47.40" y1="297.64" x2="51.20" y2="297.64" stroke="#000" stroke-width="1.8" />
<line x1="47.40" y1="281.31" x2="51.20" y2="281.31" stroke="#000" stroke-width="1.8" />
<line x1="86.00" y1="493.60" x2="86.00" y2="499.60" stroke="#000" stroke-width="1.8" />
<text x="84.50" y="511.70" font-size="10.7" text-anchor="middle" font-weight="bold" fill="#000" style="font-family:'Liberation Sans',sans-serif;stroke:#000;stroke-width:0.3px">M, 18</text>
<line x1="138.70" y1="493.60" x2="138.70" y2="499.60" stroke="#000" stroke-width="1.8" />
<text x="138.30" y="511.70" font-size="10.7" text-anchor="middle" font-weight="bold" fill="#000" style="font-family:'Liberation Sans',sans-serif;stroke:#000;stroke-width:0.3px">M, 3</text>
<line x1="191.40" y1="493.60" x2="191.40" y2="499.60" stroke="#000" stroke-width="1.8" />
<text x="191.00" y="511.70" font-size="10.7" text-anchor="middle" font-weight="bold" fill="#000" style="font-family:'Liberation Sans',sans-serif;stroke:#000;stroke-width:0.3px">M, 35</text>
<line x1="244.10" y1="493.60" x2="244.10" y2="499.60" stroke="#000" stroke-width="1.8" />
<text x="243.70" y="511.70" font-size="10.7" text-anchor="middle" font-weight="bold" fill="#000" style="font-family:'Liberation Sans',sans-serif;stroke:#000;stroke-width:0.3px">F, 36</text>
<line x1="297.00" y1="493.60" x2="297.00" y2="499.60" stroke="#000" stroke-width="1.8" />
<text x="296.60" y="511.70" font-size="10.7" text-anchor="middle" font-weight="bold" fill="#000" style="font-family:'Liberation Sans',sans-serif;stroke:#000;stroke-width:0.3px">M, 35</text>
<line x1="349.80" y1="493.60" x2="349.80" y2="499.60" stroke="#000" stroke-width="1.8" />
<text x="349.40" y="511.70" font-size="10.7" text-anchor="middle" font-weight="bold" fill="#000" style="font-family:'Liberation Sans',sans-serif;stroke:#000;stroke-width:0.3px">F, 38</text>
<text x="23.30" y="472.30" font-size="12.6" text-anchor="start" font-weight="bold" fill="#000" style="font-family:'Liberation Sans',sans-serif;" textLength="170.00" lengthAdjust="spacingAndGlyphs" transform="rotate(-90 23.30 472.30)">Telomere Lenght of Bands (kb)</text>
<polyline points="58.0,518.7 58.0,533.5 63.8,533.5" fill="none" stroke="#000" stroke-width="2.2"/>
<polyline points="103.8,533.5 111.6,533.5 111.6,518.7" fill="none" stroke="#000" stroke-width="2.2"/>
<polyline points="138.5,518.7 138.5,533.5 165.5,533.5" fill="none" stroke="#000" stroke-width="2.2"/>
<polyline points="215.4,533.5 245.0,533.5 245.0,518.7" fill="none" stroke="#000" stroke-width="2.2"/>
<polyline points="296.0,518.7 296.0,532.5 304.0,532.5" fill="none" stroke="#000" stroke-width="2.2"/>
<polyline points="341.5,532.5 349.0,532.5 349.0,518.7" fill="none" stroke="#000" stroke-width="2.2"/>
<text x="84.00" y="526.80" font-size="7.3" text-anchor="middle" font-weight="bold" fill="#000" style="font-family:'Liberation Sans',sans-serif;stroke:#000;stroke-width:0.2px" textLength="28.50" lengthAdjust="spacingAndGlyphs">Biallelic</text>
<text x="84.00" y="536.00" font-size="7.3" text-anchor="middle" font-weight="bold" fill="#000" style="font-family:'Liberation Sans',sans-serif;font-style:italic;stroke:#000;stroke-width:0.2px" textLength="25.00" lengthAdjust="spacingAndGlyphs">RTEL1</text>
<text x="84.00" y="545.00" font-size="7.3" text-anchor="middle" font-weight="bold" fill="#000" style="font-family:'Liberation Sans',sans-serif;stroke:#000;stroke-width:0.2px" textLength="29.50" lengthAdjust="spacingAndGlyphs">Variants</text>
<text x="190.50" y="526.80" font-size="7.3" text-anchor="middle" font-weight="bold" fill="#000" style="font-family:'Liberation Sans',sans-serif;stroke:#000;stroke-width:0.2px" textLength="41.50" lengthAdjust="spacingAndGlyphs">Monoallelic</text>
<text x="190.50" y="536.00" font-size="7.3" text-anchor="middle" font-weight="bold" fill="#000" style="font-family:'Liberation Sans',sans-serif;font-style:italic;stroke:#000;stroke-width:0.2px" textLength="25.00" lengthAdjust="spacingAndGlyphs">RTEL1</text>
<text x="190.50" y="545.00" font-size="7.3" text-anchor="middle" font-weight="bold" fill="#000" style="font-family:'Liberation Sans',sans-serif;stroke:#000;stroke-width:0.2px" textLength="26.00" lengthAdjust="spacingAndGlyphs">Variant</text>
<text x="322.50" y="535.00" font-size="7.3" text-anchor="middle" font-weight="bold" fill="#000" style="font-family:'Liberation Sans',sans-serif;stroke:#000;stroke-width:0.2px" textLength="31.00" lengthAdjust="spacingAndGlyphs">Controls</text>
<text x="2" y="11.3" font-size="13.6" font-weight="bold" textLength="52.3" lengthAdjust="spacingAndGlyphs" style="font-family:'Liberation Serif',serif;stroke:#000;stroke-width:0.16px" fill="#000">Figure 1:</text>
<text x="61.3" y="11.3" font-size="13.6" font-weight="normal" textLength="108.2" lengthAdjust="spacingAndGlyphs" style="font-family:'Liberation Serif',serif;stroke:#000;stroke-width:0.16px" fill="#000">TeSLA Parameters</text>
<text x="175" y="11.3" font-size="13.6" font-weight="normal" textLength="85" lengthAdjust="spacingAndGlyphs" style="font-family:'Liberation Serif',serif;stroke:#000;stroke-width:0.16px" fill="#000">Comparison of</text>
<text x="263.6" y="11.3" font-size="13.6" font-weight="normal" textLength="68.9" lengthAdjust="spacingAndGlyphs" style="font-family:'Liberation Serif',serif;stroke:#000;stroke-width:0.16px" fill="#000">Patients with</text>
<text x="338.2" y="11.3" font-size="13.6" font-weight="normal" textLength="99.4" lengthAdjust="spacingAndGlyphs" style="font-family:'Liberation Serif',serif;stroke:#000;stroke-width:0.16px" fill="#000">DC and Controls</text>
<text x="2" y="243.2" font-size="13.2" font-weight="bold" textLength="51.6" lengthAdjust="spacingAndGlyphs" style="font-family:'Liberation Serif',serif;stroke:#000;stroke-width:0.16px" fill="#000">Figure 2:</text>
<text x="60.6" y="243.2" font-size="13.2" font-weight="normal" textLength="458.4" lengthAdjust="spacingAndGlyphs" style="font-family:'Liberation Serif',serif;stroke:#000;stroke-width:0.16px" fill="#000">Illustration of full telomere distribution in family with members having biallelic</text>
<text x="2" y="259.2" font-size="13.2" textLength="370.5" lengthAdjust="spacingAndGlyphs" style="font-family:'Liberation Serif',serif;stroke:#000;stroke-width:0.16px" fill="#000"><tspan font-style="italic">RTEL1</tspan> or monoallelic <tspan font-style="italic">RTEL1</tspan> variants and age-matched controls</text>
<text x="2" y="569.7" font-size="11.9" textLength="107.3" lengthAdjust="spacingAndGlyphs" style="font-family:'Liberation Serif',serif;stroke:#000;stroke-width:0.16px" fill="#000">M – male; F – female.</text>
</svg>
</body></html>
